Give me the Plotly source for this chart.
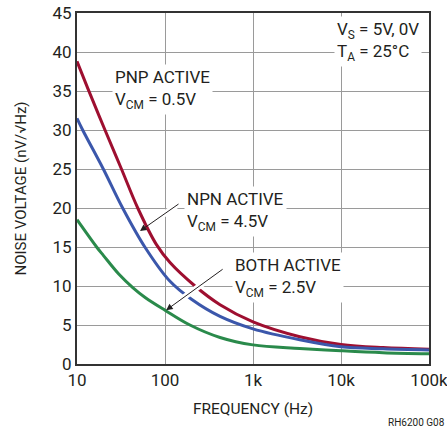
import math
import plotly.graph_objects as go

# ---- data ----
pnp_f = [10, 13.3, 20.8, 32, 49, 80, 114, 219, 422, 1000, 3400, 10000, 30000, 100000]
pnp_v = [38.8, 35.3, 30, 25, 20, 15.3, 13.0, 10, 7.6, 5.4, 3.5, 2.5, 2.1, 1.9]

npn_f = [10, 11.6, 19.9, 33, 59, 114, 200, 422, 1000, 3400, 10000, 30000, 100000]
npn_v = [31.5, 30, 25, 20, 15, 10.6, 8.3, 6.1, 4.5, 3.1, 2.2, 1.95, 1.8]

both_f = [10, 16.7, 20, 30, 43, 60, 100, 192, 422, 1000, 3400, 10000, 30000, 100000]
both_v = [18.5, 15, 13.9, 11.5, 9.8, 8.5, 6.9, 5.0, 3.4, 2.45, 2.0, 1.7, 1.45, 1.3]

x_tickvals = [10, 100, 1000, 10000, 100000]
x_ticktext = ["10", "100", "1k", "10k", "100k"]
y_tickvals = list(range(0, 50, 5))

RED = "#9E0F30"
BLUE = "#3B57AB"
GREEN = "#2A8A4B"
TXT = "#231f20"
FONT = "Roboto, Arial, sans-serif"

fig = go.Figure()
for f, v, c in [(both_f, both_v, GREEN), (pnp_f, pnp_v, RED), (npn_f, npn_v, BLUE)]:
    fig.add_trace(go.Scatter(x=f, y=v, mode="lines",
                             line=dict(color=c, width=3, shape="spline", smoothing=1.0),
                             showlegend=False, hoverinfo="skip"))

anns = []
# white halos under arrows, then black arrows
def arrow(xf, yv, ax, ay):
    lx = math.log10(xf)
    anns.append(dict(x=lx, y=yv, xref="x", yref="y", ax=ax, ay=ay, text="",
                     showarrow=True, arrowhead=0, arrowwidth=6, arrowcolor="white",
                     standoff=10))
    anns.append(dict(x=lx, y=yv, xref="x", yref="y", ax=ax, ay=ay, text="",
                     showarrow=True, arrowhead=2, arrowsize=1.3, arrowwidth=1,
                     arrowcolor=TXT))

arrow(52, 17.05, 40, -28)
arrow(103, 6.9, 58, -42)

def label(xf, yv, text):
    anns.append(dict(x=math.log10(xf), y=yv, xref="x", yref="y", text=text,
                     showarrow=False, xanchor="left", yanchor="middle", align="left",
                     bgcolor="white", borderpad=2,
                     font=dict(family=FONT, size=17, color=TXT)))

label(25, 35.2, "PNP ACTIVE<br>V<sub>CM</sub> = 0.5V")
label(165, 19.6, "NPN ACTIVE<br>V<sub>CM</sub> = 4.5V")
label(570, 11.1, "BOTH ACTIVE<br>V<sub>CM</sub> = 2.5V")
label(8300, 41.4, "V<sub>S</sub> = 5V, 0V<br>T<sub>A</sub> = 25°C")

anns.append(dict(x=1, y=-0.168, xref="paper", yref="paper", xshift=18,
                 text="RH6200 G08", showarrow=False, xanchor="right", yanchor="middle",
                 font=dict(family=FONT, size=10, color=TXT)))

fig.update_layout(
    width=447, height=432,
    margin=dict(l=77, r=18, t=13, b=68, autoexpand=False),
    paper_bgcolor="white", plot_bgcolor="white",
    font=dict(family=FONT, size=17, color=TXT),
    annotations=anns,
    xaxis=dict(type="log", range=[1, 5], tickvals=x_tickvals, ticktext=x_ticktext,
               showgrid=True, gridcolor="#9a9a9a", gridwidth=1,
               showline=True, linecolor="#333333", linewidth=2, mirror=True,
               ticks="", zeroline=False, ticklabeloverflow="allow", automargin=False,
               tickfont=dict(family=FONT, size=17, color=TXT),
               title=dict(text="FREQUENCY (Hz)", standoff=14,
                          font=dict(family=FONT, size=15.5, color=TXT))),
    yaxis=dict(range=[0, 45], tickvals=y_tickvals, automargin=False,
               showgrid=True, gridcolor="#9a9a9a", gridwidth=1,
               showline=True, linecolor="#333333", linewidth=2, mirror=True,
               ticks="", zeroline=False,
               tickfont=dict(family=FONT, size=17, color=TXT),
               title=dict(text="NOISE VOLTAGE (nV/√Hz)", standoff=22,
                          font=dict(family=FONT, size=15, color=TXT))),
)

fig.write_html("out.html")
